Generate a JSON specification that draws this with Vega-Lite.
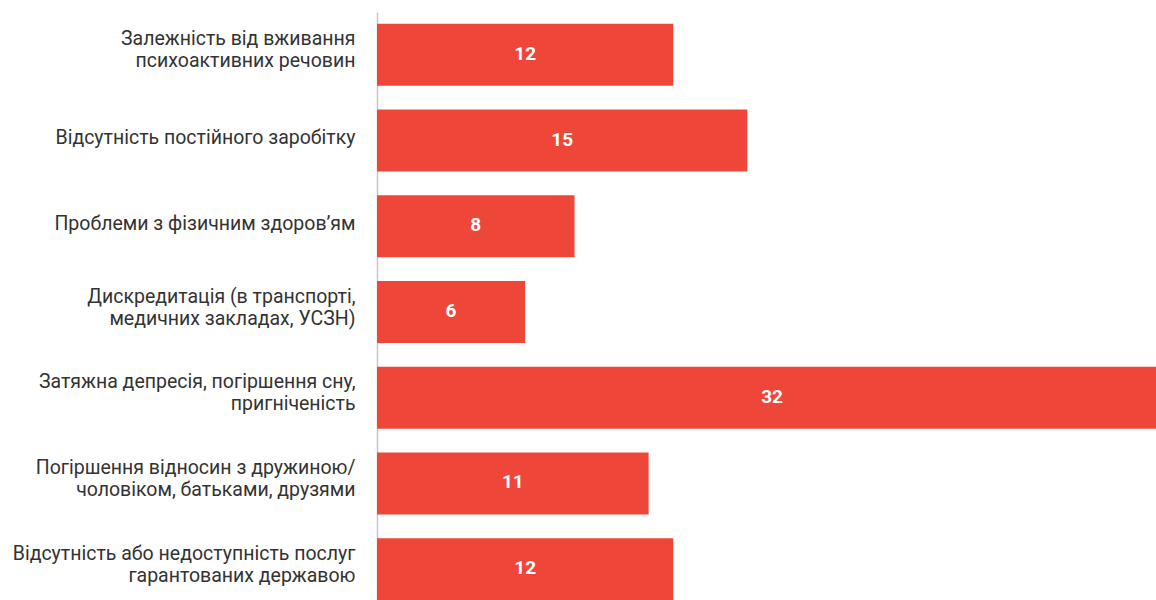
{
  "$schema": "https://vega.github.io/schema/vega-lite/v6.json",
  "autosize": "none",
  "padding": {"left": 377, "top": 12, "right": 0, "bottom": 0},
  "width": 779,
  "height": 600,
  "background": "white",
  "config": {"view": {"stroke": null}, "font": "Roboto"},
  "data": {"values": [
    {"label": "Залежність від вживання|психоактивних речовин", "value": 12},
    {"label": "Відсутність постійного заробітку", "value": 15},
    {"label": "Проблеми з фізичним здоров’ям", "value": 8},
    {"label": "Дискредитація (в транспорті,|медичних закладах, УСЗН)", "value": 6},
    {"label": "Затяжна депресія, погіршення сну,|пригніченість", "value": 32},
    {"label": "Погіршення відносин з дружиною/|чоловіком, батьками, друзями", "value": 11},
    {"label": "Відсутність або недоступність послуг|гарантованих державою", "value": 12}
  ]},
  "encoding": {
    "y": {
      "field": "label", "type": "nominal", "sort": null,
      "scale": {"paddingInner": 0.277, "paddingOuter": 0.1385},
      "axis": {
        "title": null, "ticks": false, "grid": false,
        "labelExpr": "split(datum.label, '|')",
        "labelFontSize": 19.5, "labelColor": "#333333", "labelFont": "Roboto",
        "labelLineHeight": 22, "labelPadding": 22, "labelLimit": 400,
        "labelOffset": {"expr": "indexof(datum.value, '|') >= 0 ? -15.5 : -2.5"},
        "domainColor": "#c6c6c6", "domainWidth": 1.5
      }
    }
  },
  "layer": [
    {
      "mark": {"type": "bar", "color": "#ef463a"},
      "encoding": {
        "x": {"field": "value", "type": "quantitative", "scale": {"domain": [0, 31.55], "nice": false}, "axis": null}
      }
    },
    {
      "mark": {"type": "text", "color": "white", "fontWeight": "bold", "fontSize": 19, "font": "Roboto", "align": "center", "baseline": "middle", "dy": -1},
      "encoding": {
        "x": {"field": "value", "type": "quantitative", "scale": {"domain": [0, 63.1], "nice": false}, "axis": null},
        "text": {"field": "value", "type": "quantitative"}
      }
    }
  ],
  "resolve": {"scale": {"x": "independent"}}
}
